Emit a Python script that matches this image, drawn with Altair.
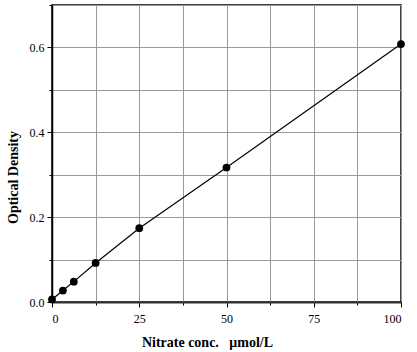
import altair as alt
import pandas as pd

conc = [0, 3.125, 6.25, 12.5, 25, 50, 100]
od = [0.006, 0.027, 0.048, 0.092, 0.174, 0.317, 0.608]
x_grid = [0, 12.5, 25, 37.5, 50, 62.5, 75, 87.5, 100]
y_grid = [0.0, 0.1, 0.2, 0.3, 0.4, 0.5, 0.6, 0.7]

df = pd.DataFrame({"conc": conc, "od": od})

FONT = "'Liberation Serif', 'Times New Roman', Times, serif"

x_enc = alt.X(
    "conc:Q",
    scale=alt.Scale(domain=[0, 100], nice=False, zero=False),
    axis=alt.Axis(
        values=x_grid,
        title="Nitrate conc.\u00a0\u00a0\u00a0\u03bcmol/L",
        labelExpr="datum.value % 25 === 0 ? datum.label : ''",
        tickSize={"condition": {"test": "datum.value % 25 === 0", "value": 5}, "value": 3},
        labelFont=FONT, labelFontSize=12, labelColor="black", labelPadding=6,
        titleFont=FONT, titleFontSize=14, titleFontWeight="bold", titleColor="black",
        titleX=155, titleY=44, titleAnchor="middle", titleBaseline="alphabetic",
        domainColor="#333", domainWidth=2, tickColor="black",
        gridColor="#999", gridWidth=1, format="d",
    ),
)
y_enc = alt.Y(
    "od:Q",
    scale=alt.Scale(domain=[0, 0.7], nice=False, zero=False),
    axis=alt.Axis(
        values=y_grid,
        title="Optical Density",
        labelExpr="round(datum.value*10) % 2 === 0 && datum.value < 0.65 ? format(datum.value, '.1f') : ''",
        tickSize={"condition": {"test": "round(datum.value*10) % 2 === 0", "value": 5}, "value": 3},
        labelFont=FONT, labelFontSize=12, labelColor="black", labelPadding=3,
        titleFont=FONT, titleFontSize=14, titleFontWeight="bold", titleColor="black",
        titleY=172, titleX=-32, titleAngle=-90, titleAnchor="middle",
        domainColor="black", domainWidth=1.5, tickColor="black",
        gridColor="#999", gridWidth=1,
    ),
)

line = alt.Chart(df).mark_line(color="black", strokeWidth=1.2).encode(x=x_enc, y=y_enc)
pts = alt.Chart(df).mark_circle(color="black", opacity=1, size=60).encode(x=x_enc, y=y_enc)

chart = (
    (line + pts)
    .properties(
        width=349,
        height=297,
        autosize=alt.AutoSizeParams(type="none"),
        padding={"left": 52, "top": 5, "right": 16, "bottom": 50},
        background="white",
    )
    .configure_view(stroke="black", strokeWidth=1.5)
)

chart.save("out.html", embed_options={"renderer": "svg", "actions": False})
